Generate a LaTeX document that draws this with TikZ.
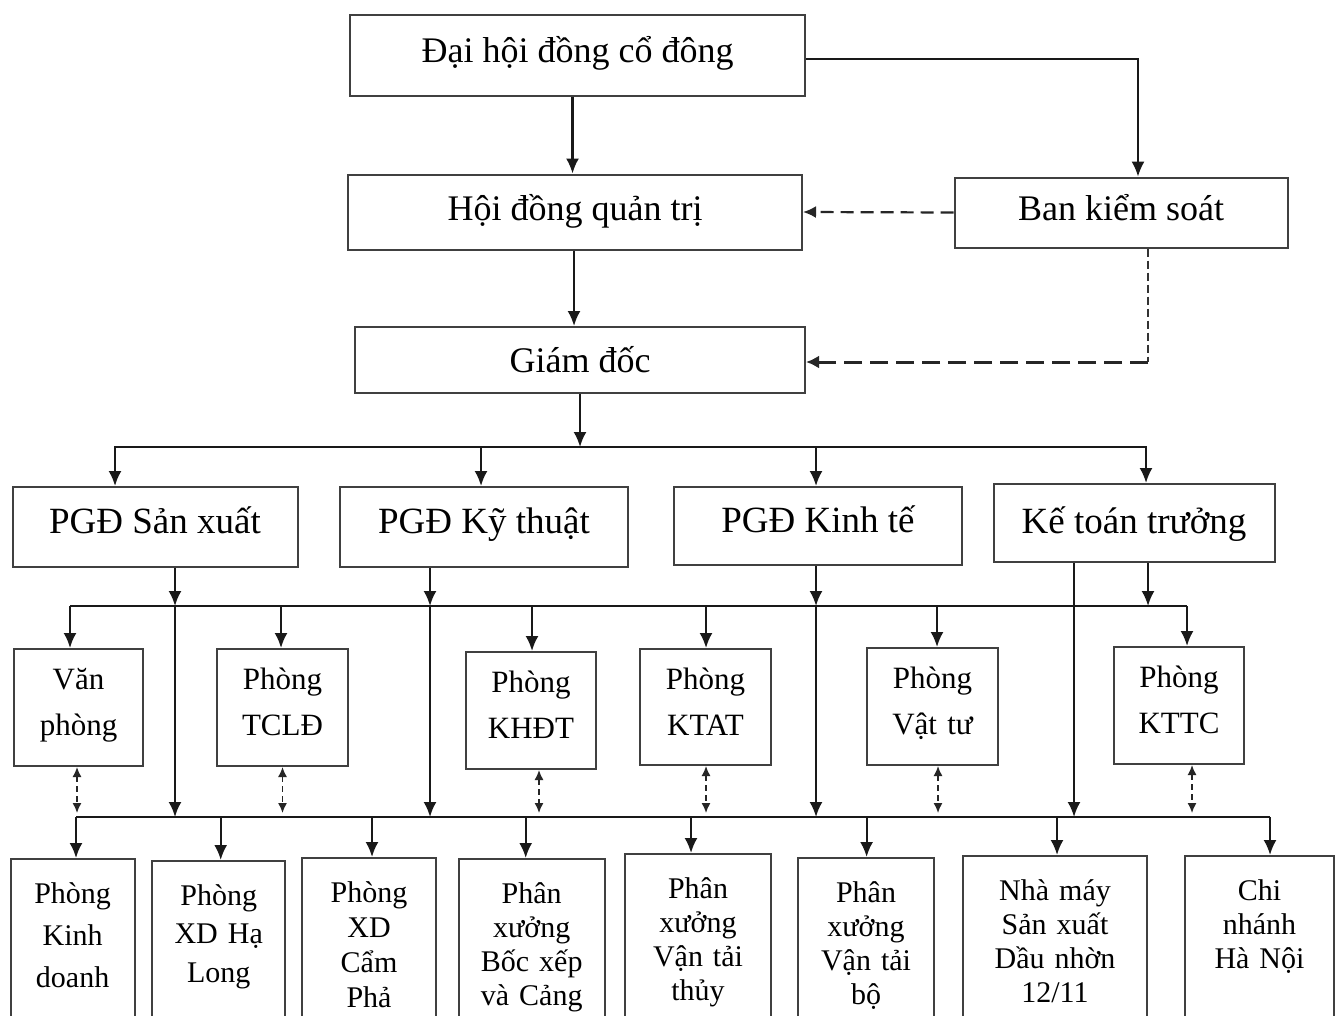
\documentclass[tikz,border=0pt]{standalone}
\usepackage{fontspec}
\setmainfont{Liberation Serif}
\usetikzlibrary{arrows.meta}
\begin{document}
\begin{tikzpicture}[x=1pt,y=-1pt,
  box/.style={draw=black!75, line width=2pt, rectangle, inner sep=0pt},
  topbox/.style={box, font=\fontsize{36}{40}\selectfont, text height=25pt, text depth=9pt},
  pgdbox/.style={box, font=\fontsize{37}{40}\selectfont, text height=24pt, text depth=12pt},
  midbox/.style={box, anchor=north, align=center, font=\fontsize{31}{46}\selectfont,
     inner xsep=0pt, inner ysep=4pt, text height=36pt, text depth=73pt},
  botbox/.style={box, anchor=north, align=center, font=\fontsize{30}{34}\selectfont,
     inner xsep=0pt, inner ysep=23.5pt, text height=20.5pt, text depth=160pt},
  ln/.style={line width=2.2pt, draw=black!90},
  arr/.style={ln, -{Latex[length=15pt,width=13pt]}},
  dshA/.style={line width=2.2pt, draw=black!85, dash pattern=on 13pt off 7pt, -{Latex[length=13pt,width=12pt]}},
  dshB/.style={line width=1.3pt, draw=black!80, dash pattern=on 8pt off 4pt},
  dshC/.style={line width=3pt, draw=black!85, dash pattern=on 18pt off 8pt, -{Latex[length=13pt,width=13pt]}},
  dbl/.style={line width=1.5pt, draw=black!85, dash pattern=on 6pt off 4pt,
     {Latex[length=10pt,width=9pt]}-{Latex[length=10pt,width=9pt]}},
]
\useasboundingbox (0,0) rectangle (1340,1015);
\clip (0,0) rectangle (1340,1015);
\fill[white] (0,0) rectangle (1340,1015);

% top level
\node[topbox, minimum width=455pt, minimum height=81pt, text height=25pt, text depth=11pt] (dh) at (577.5,55) {Đại hội đồng cổ đông};
\node[topbox, minimum width=454pt, minimum height=75pt] (hd) at (575,212) {Hội đồng quản trị};
\node[topbox, minimum width=333pt, minimum height=70pt] (bk) at (1121,212.5) {Ban kiểm soát};
\node[topbox, minimum width=450pt, minimum height=66pt, text height=27pt, text depth=3pt] (gd) at (580,360) {Giám đốc};

% deputies
\node[pgdbox, minimum width=285pt, minimum height=80pt] (p1) at (155,527) {PGĐ Sản xuất};
\node[pgdbox, minimum width=288pt, minimum height=80pt] (p2) at (484,527) {PGĐ Kỹ thuật};
\node[pgdbox, minimum width=288pt, minimum height=78pt] (p3) at (818,526) {PGĐ Kinh tế};
\node[pgdbox, minimum width=281pt, minimum height=78pt, text height=26pt, text depth=6pt] (p4) at (1134,523) {Kế toán trưởng};

% middle departments
\node[midbox, text width=129pt] (m1) at (78.5,648) {Văn\\phòng};
\node[midbox, text width=131pt] (m2) at (282.5,648) {Phòng\\TCLĐ};
\node[midbox, text width=130pt, text depth=73pt] (m3) at (531,651) {Phòng\\KHĐT};
\node[midbox, text width=131pt, text depth=72pt] (m4) at (705.5,648) {Phòng\\KTAT};
\node[midbox, text width=131pt, text depth=73pt] (m5) at (932.5,647) {Phòng\\Vật tư};
\node[midbox, text width=130pt, text depth=73pt] (m6) at (1179,646) {Phòng\\KTTC};

% bottom units
\node[botbox, text width=124pt, font=\fontsize{30}{42}\selectfont] (b1) at (72.6,858) {Phòng\\Kinh\\doanh};
\node[botbox, text width=133pt, font=\fontsize{30}{38.5}\selectfont] (b2) at (218.7,860) {Phòng\\XD Hạ\\Long};
\node[botbox, text width=134pt, font=\fontsize{30}{35}\selectfont] (b3) at (369,857) {Phòng\\XD\\Cẩm\\Phả};
\node[botbox, text width=146pt] (b4) at (531.7,858) {Phân\\xưởng\\Bốc xếp\\và Cảng};
\node[botbox, text width=146pt] (b5) at (698,853) {Phân\\xưởng\\Vận tải\\thủy};
\node[botbox, text width=136pt] (b6) at (866,857) {Phân\\xưởng\\Vận tải\\bộ};
\node[botbox, text width=184pt] (b7) at (1055,855) {Nhà máy\\Sản xuất\\Dầu nhờn\\12/11};
\node[botbox, text width=149pt] (b8) at (1259.5,855) {Chi\\nhánh\\Hà Nội};

% top connectors
\draw[arr] ([xshift=-5pt]dh.south) -- ([xshift=-5pt]dh.south |- hd.north);
\draw[ln, line width=1.6pt, -{Latex[length=15pt,width=13pt]}] ([yshift=-4pt]dh.east) -| ([xshift=17pt]bk.north);
\draw[dshA] (bk.west) -- (hd.east);
\draw[arr] ([xshift=-1pt]hd.south) -- ([xshift=-1pt]hd.south |- gd.north);
\coordinate (bkc) at (1148,362);
\draw[dshB] ([xshift=27pt]bk.south) -- (bkc);
\draw[dshC] (bkc) -- (gd.east |- bkc);

% first bus
\coordinate (bus1) at (580,447);
\draw[arr] (gd.south) -- (bus1);
\draw[arr] (bus1) -| ([xshift=-40pt]p1.north);
\draw[arr] (bus1) -| ([xshift=-3pt]p2.north);
\draw[arr] (bus1) -| ([xshift=-2pt]p3.north);
\draw[arr] (bus1) -| ([xshift=12pt]p4.north);

% bus coordinates
\coordinate (s1) at (175,606);  \coordinate (t1) at (175,817);
\coordinate (s2) at (430,606);  \coordinate (t2) at (430,817);
\coordinate (s3) at (816,606);  \coordinate (t3) at (816,817);
\coordinate (s4) at (1148,606); \coordinate (t4) at (1074,817);
\coordinate (busL2) at (70,606); \coordinate (busR2) at (1187,606);
\coordinate (busL3) at (76,817); \coordinate (busR3) at (1270,817);

% bus lines
\draw[ln] (busL2) -- (busR2);
\draw[ln] (busL3) -- (busR3);

% deputies to buses
\draw[arr] (p1.south -| s1) -- (s1);
\draw[arr] (s1) -- (t1);
\draw[arr] (p2.south -| s2) -- (s2);
\draw[arr] (s2) -- (t2);
\draw[arr] (p3.south -| s3) -- (s3);
\draw[arr] (s3) -- (t3);
\draw[arr] (p4.south -| t4) -- (t4);
\draw[arr] (p4.south -| s4) -- (s4);

% second bus to middle departments
\draw[arr] (busL2) -- (busL2 |- m1.north);
\draw[arr] ([xshift=-1.5pt]m2.north |- s1) -- ([xshift=-1.5pt]m2.north);
\draw[arr] ([xshift=1pt]m3.north |- s1) -- ([xshift=1pt]m3.north);
\draw[arr] ([xshift=0.5pt]m4.north |- s1) -- ([xshift=0.5pt]m4.north);
\draw[arr] ([xshift=4.5pt]m5.north |- s1) -- ([xshift=4.5pt]m5.north);
\draw[arr] (busR2) -- (busR2 |- m6.north);

% dashed links middle departments <-> third bus
\draw[dbl] ([xshift=-1.5pt]m1.south) -- ([xshift=-1.5pt,yshift=4pt]m1.south |- t1);
\draw[dbl] (m2.south) -- ([yshift=4pt]m2.south |- t1);
\draw[dbl] ([xshift=8pt]m3.south) -- ([xshift=8pt,yshift=4pt]m3.south |- t1);
\draw[dbl] ([xshift=0.5pt]m4.south) -- ([xshift=0.5pt,yshift=4pt]m4.south |- t1);
\draw[dbl] ([xshift=5.5pt]m5.south) -- ([xshift=5.5pt,yshift=4pt]m5.south |- t1);
\draw[dbl] ([xshift=13pt]m6.south) -- ([xshift=13pt,yshift=4pt]m6.south |- t1);

% third bus to bottom units
\draw[arr] (busL3) -- (busL3 |- b1.north);
\draw[arr] ([xshift=2pt]b2.north |- t1) -- ([xshift=2pt]b2.north);
\draw[arr] ([xshift=3pt]b3.north |- t1) -- ([xshift=3pt]b3.north);
\draw[arr] ([xshift=-6pt]b4.north |- t1) -- ([xshift=-6pt]b4.north);
\draw[arr] ([xshift=-7pt]b5.north |- t1) -- ([xshift=-7pt]b5.north);
\draw[arr] ([xshift=0.6pt]b6.north |- t1) -- ([xshift=0.6pt]b6.north);
\draw[arr] ([xshift=2pt]b7.north |- t1) -- ([xshift=2pt]b7.north);
\draw[arr] (busR3) -- (busR3 |- b8.north);
\end{tikzpicture}
\end{document}
